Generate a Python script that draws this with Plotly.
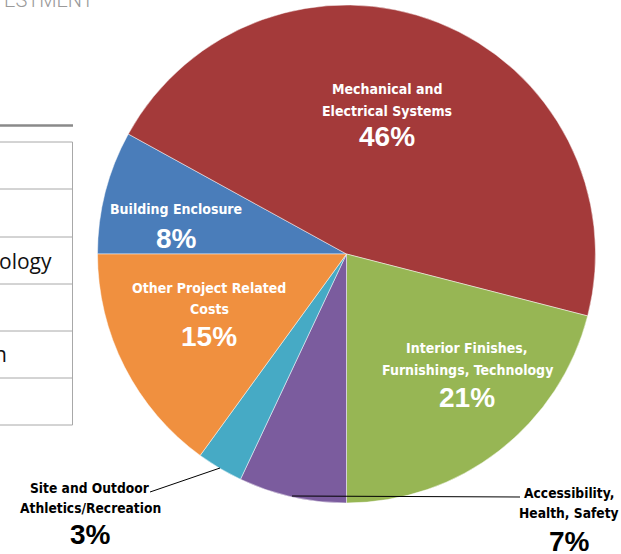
import plotly.graph_objects as go

W, H = 621, 554

categories = ["Building Enclosure", "Mechanical and Electrical Systems",
              "Interior Finishes, Furnishings, Technology",
              "Accessibility, Health, Safety",
              "Site and Outdoor Athletics/Recreation",
              "Other Project Related Costs"]
shares = [8, 46, 21, 7, 3, 15]
colors = ["#4A7DBA", "#A43A3A", "#97B654", "#7B5C9E", "#46AAC5", "#F0903F"]

def px(x):
    return x / W

def py(y):
    return 1 - y / H

# pie geometry (pixels)
cx, cy, r = 346.5, 254, 249

fig = go.Figure()
fig.add_trace(go.Pie(
    labels=categories, values=shares, sort=False, direction="clockwise",
    rotation=270, textinfo="none", hoverinfo="label+percent",
    marker=dict(colors=colors, line=dict(color="rgba(255,255,255,0.6)", width=0.8)),
    domain=dict(x=[px(cx - r), px(cx + r)], y=[py(cy + r), py(cy - r)]),
    showlegend=False,
))

LBL = "Liberation Sans Narrow, DejaVu Sans Condensed, Roboto, sans-serif"
PCT = "Liberation Sans, Arial, sans-serif"

def label(x, ys, lines, pct, color, y_pct, lsize=14, psize=28):
    for yy, line in zip(ys, lines):
        fig.add_annotation(x=px(x), y=py(yy), xref="paper", yref="paper", text=line,
                           showarrow=False, align="center", xanchor="center", yanchor="middle",
                           font=dict(family=LBL, size=lsize, color=color, weight="bold"))
    fig.add_annotation(x=px(x), y=py(y_pct), xref="paper", yref="paper",
                       text=pct, showarrow=False, xanchor="center", yanchor="middle",
                       font=dict(family=PCT, size=psize, color=color, weight="bold"))

label(387, [89, 111], ["Mechanical and", "Electrical Systems"], f"{shares[1]}%", "white", 137)
label(176, [209], ["Building Enclosure"], f"{shares[0]}%", "white", 238)
label(209, [288, 309], ["Other Project Related", "Costs"], f"{shares[5]}%", "white", 336)
label(467, [348, 370], ["Interior Finishes,", "Furnishings, Technology"], f"{shares[2]}%", "white", 397)
label(90, [487.5, 507.5], ["Site and Outdoor", "Athletics/Recreation"], f"{shares[4]}%", "black", 534, lsize=13.7)
label(569, [492.5, 513], ["Accessibility,", "Health, Safety"], f"{shares[3]}%", "black", 541, lsize=13.7)

shapes = []
# leader lines
shapes.append(dict(type="line", xref="paper", yref="paper", x0=px(150), y0=py(492),
                   x1=px(220), y1=py(468), line=dict(color="black", width=1)))
shapes.append(dict(type="line", xref="paper", yref="paper", x0=px(292), y0=py(496),
                   x1=px(520), y1=py(497), line=dict(color="black", width=1)))

# partial table on the left
shapes.append(dict(type="line", xref="paper", yref="paper", x0=0, y0=py(125.5),
                   x1=px(73), y1=py(125.5), line=dict(color="#8A8A8A", width=2.5)))
row_lines = [142, 189, 237, 284, 331, 378, 425]
for yy in row_lines:
    shapes.append(dict(type="line", xref="paper", yref="paper", x0=0, y0=py(yy),
                       x1=px(72.5), y1=py(yy), line=dict(color="#A8A8A8", width=1)))
shapes.append(dict(type="line", xref="paper", yref="paper", x0=px(72.5), y0=py(142),
                   x1=px(72.5), y1=py(425), line=dict(color="#A8A8A8", width=1)))

fig.add_annotation(x=px(54), y=py(261), xref="paper", yref="paper", text="ology",
                   showarrow=False, xanchor="right", yanchor="middle",
                   font=dict(family="Open Sans, Liberation Sans, sans-serif", size=21, color="#111"))
fig.add_annotation(x=px(9), y=py(354), xref="paper", yref="paper", text="n",
                   showarrow=False, xanchor="right", yanchor="middle",
                   font=dict(family="Open Sans, Liberation Sans, sans-serif", size=21, color="#111"))
fig.add_annotation(x=px(96), y=py(0), xref="paper", yref="paper", text="ESTMENT",
                   showarrow=False, xanchor="right", yanchor="middle",
                   font=dict(family="Roboto, Liberation Sans, sans-serif", size=20,
                             color="#9A9A9A", weight=300))

fig.update_layout(width=W, height=H, margin=dict(l=0, r=0, t=0, b=0),
                  paper_bgcolor="white", plot_bgcolor="white", shapes=shapes)

fig.write_html("out.html", config={"displayModeBar": False},
               post_script="document.body.style.margin='0px';document.body.style.overflow='hidden';")
